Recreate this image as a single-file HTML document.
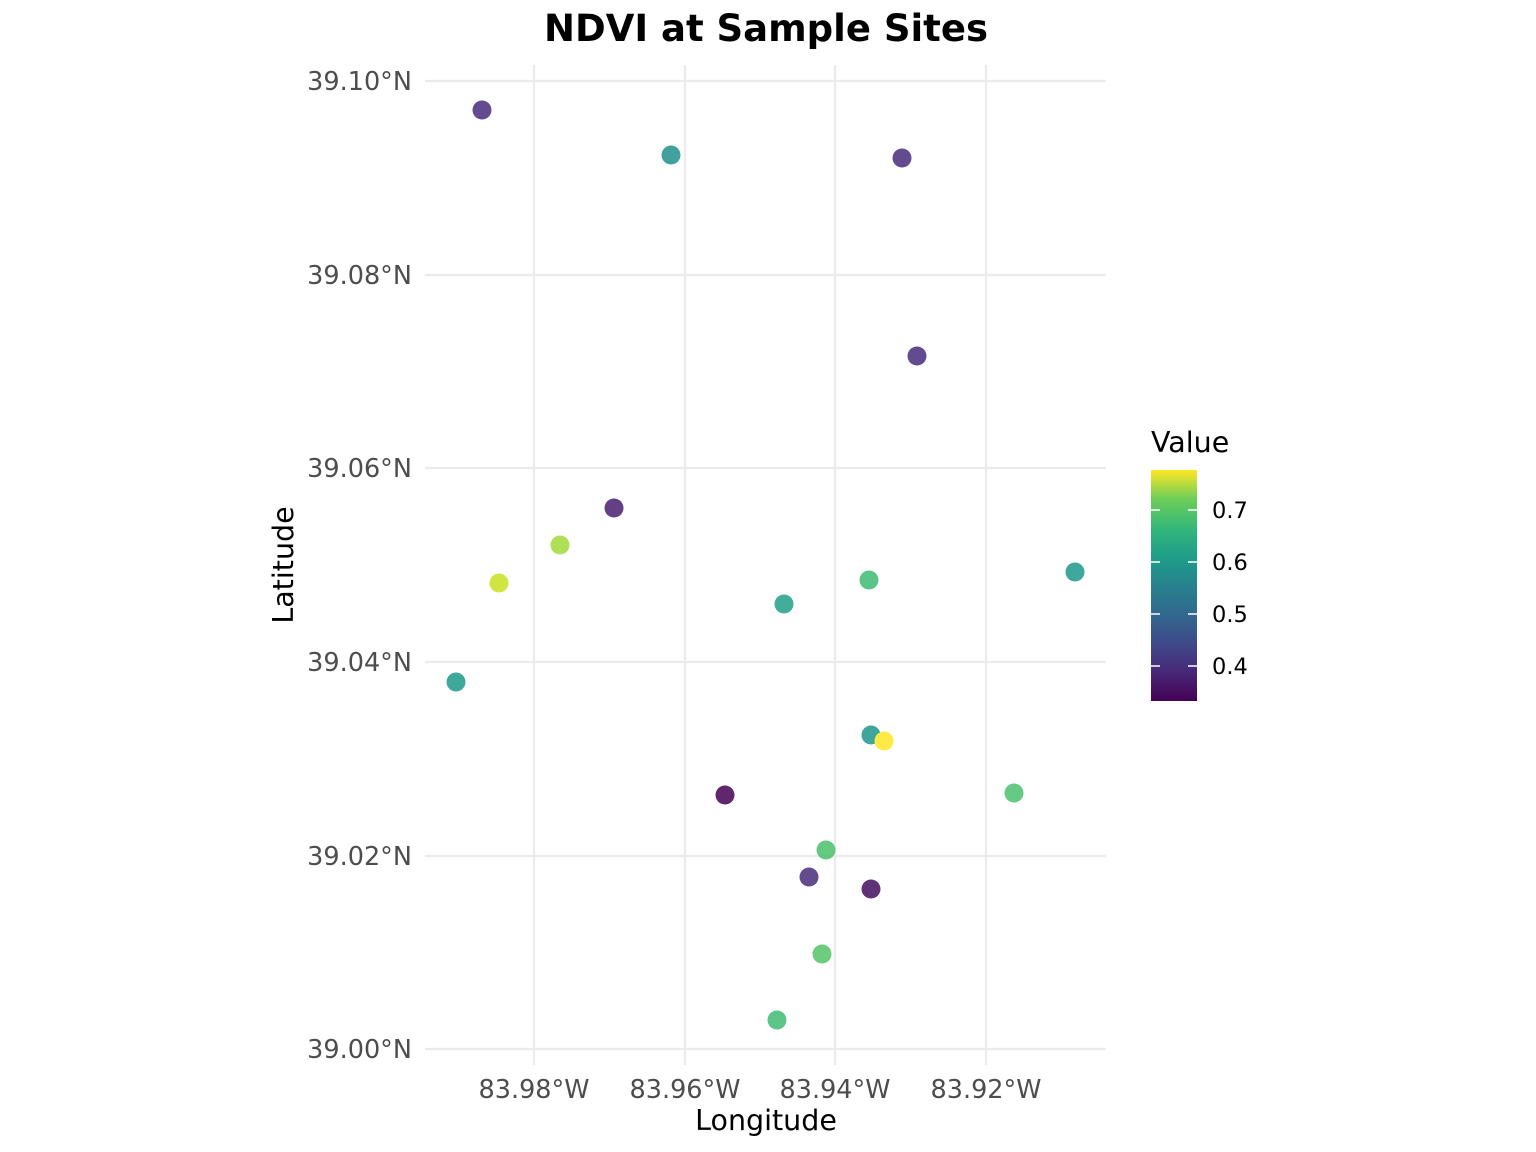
<!DOCTYPE html>
<html><head><meta charset="utf-8"><style>body{margin:0;background:#fff}svg{display:block}text{font-family:"DejaVu Sans","Liberation Sans",sans-serif}</style></head><body>
<svg width="1536" height="1152" viewBox="0 0 1536 1152">
<defs><linearGradient id="v" x1="0" y1="1" x2="0" y2="0">
<stop offset="0" stop-color="#440154"/><stop offset="0.125" stop-color="#482878"/><stop offset="0.25" stop-color="#3e4a89"/><stop offset="0.375" stop-color="#31688e"/><stop offset="0.5" stop-color="#26828e"/><stop offset="0.625" stop-color="#1f9e89"/><stop offset="0.75" stop-color="#35b779"/><stop offset="0.875" stop-color="#6ece58"/><stop offset="1" stop-color="#fde725"/></linearGradient></defs>
<g stroke="#ebebeb" stroke-width="2.2">
<line x1="534" y1="65" x2="534" y2="1065"/><line x1="685" y1="65" x2="685" y2="1065"/><line x1="835" y1="65" x2="835" y2="1065"/><line x1="986" y1="65" x2="986" y2="1065"/>
<line x1="425" y1="81" x2="1106" y2="81"/><line x1="425" y1="275" x2="1106" y2="275"/><line x1="425" y1="468" x2="1106" y2="468"/><line x1="425" y1="662" x2="1106" y2="662"/><line x1="425" y1="856" x2="1106" y2="856"/><line x1="425" y1="1049" x2="1106" y2="1049"/>
</g>
<g font-size="25.5" fill="#4d4d4d" text-anchor="end">
<text x="412" y="90">39.10°N</text><text x="412" y="284">39.08°N</text><text x="412" y="477">39.06°N</text><text x="412" y="671">39.04°N</text><text x="412" y="865">39.02°N</text><text x="412" y="1058">39.00°N</text></g>
<g font-size="25.5" fill="#4d4d4d" text-anchor="middle">
<text x="534" y="1098">83.98°W</text><text x="685" y="1098">83.96°W</text><text x="835" y="1098">83.94°W</text><text x="986" y="1098">83.92°W</text></g>
<text x="766" y="1130" font-size="28.5" text-anchor="middle">Longitude</text>
<text transform="translate(293,565) rotate(-90)" font-size="28.5" text-anchor="middle">Latitude</text>
<text x="766" y="41" font-size="37" font-weight="bold" text-anchor="middle">NDVI at Sample Sites</text>
<g opacity="0.85">
<circle cx="482" cy="110" r="9.5" fill="#472d7b"/>
<circle cx="671" cy="155" r="9.5" fill="#21908c"/>
<circle cx="902" cy="158" r="9.5" fill="#472d7b"/>
<circle cx="917" cy="356" r="9.5" fill="#472d7b"/>
<circle cx="614" cy="508" r="9.5" fill="#481f70"/>
<circle cx="560" cy="545" r="9.5" fill="#a0da39"/>
<circle cx="499" cy="583" r="9.5" fill="#c8e020"/>
<circle cx="869" cy="580" r="9.5" fill="#3fbc73"/>
<circle cx="784" cy="604" r="9.5" fill="#1fa088"/>
<circle cx="1075" cy="572" r="9.5" fill="#1f988b"/>
<circle cx="456" cy="682" r="9.5" fill="#1f998a"/>
<circle cx="871" cy="735" r="9.5" fill="#1f968b"/>
<circle cx="884" cy="741" r="9.5" fill="#fde725"/>
<circle cx="725" cy="795" r="9.5" fill="#440154"/>
<circle cx="1014" cy="793" r="9.5" fill="#4ac16d"/>
<circle cx="826" cy="850" r="9.5" fill="#4ac16d"/>
<circle cx="809" cy="877" r="9.5" fill="#472d7b"/>
<circle cx="871" cy="889" r="9.5" fill="#440f61"/>
<circle cx="822" cy="954" r="9.5" fill="#54c568"/>
<circle cx="777" cy="1020" r="9.5" fill="#3fbc73"/>
</g>
<text x="1151" y="452" font-size="28.5">Value</text>
<rect x="1151" y="470" width="46" height="231" fill="url(#v)"/>
<g stroke="#fff" stroke-width="1.5">
<line x1="1151" y1="510" x2="1160" y2="510"/><line x1="1188" y1="510" x2="1197" y2="510"/>
<line x1="1151" y1="562" x2="1160" y2="562"/><line x1="1188" y1="562" x2="1197" y2="562"/>
<line x1="1151" y1="614" x2="1160" y2="614"/><line x1="1188" y1="614" x2="1197" y2="614"/>
<line x1="1151" y1="666" x2="1160" y2="666"/><line x1="1188" y1="666" x2="1197" y2="666"/>
</g>
<g font-size="22.5"><text x="1212" y="518">0.7</text><text x="1212" y="570">0.6</text><text x="1212" y="622">0.5</text><text x="1212" y="674">0.4</text></g>
</svg>
</body></html>
